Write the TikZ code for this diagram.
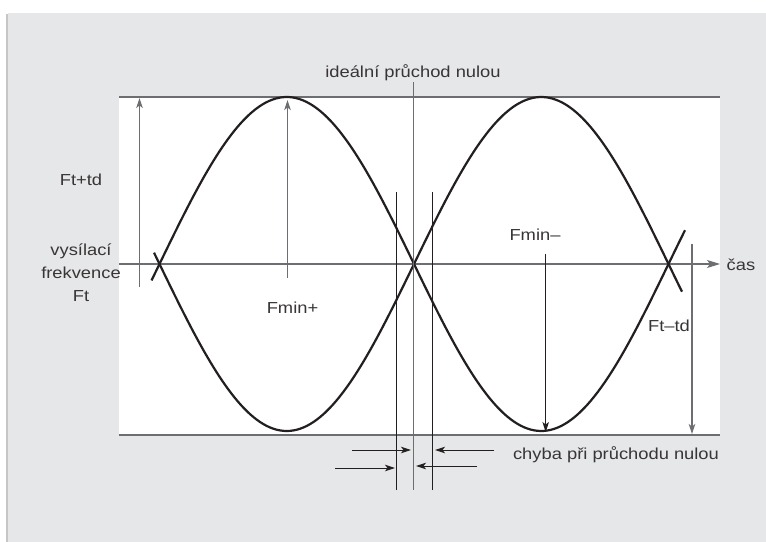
\documentclass[tikz,border=0pt]{standalone}
\usepackage{fontspec}
\setmainfont{Liberation Sans}[FakeStretch=1.15]
\usetikzlibrary{arrows.meta}

\definecolor{panelgray}{HTML}{E6E7E8}
\definecolor{linegray}{HTML}{6D6E71}
\definecolor{ink}{HTML}{231F20}

\tikzset{
    curve/.style={line width=2.2bp, ink, line join=round},
    guide/.style={line width=1.1bp, linegray},
    thinline/.style={line width=0.9bp, ink},
    measure/.style={-{Stealth[length=10bp, width=6.5bp, inset=2.5bp]}},
    lbl/.style={font=\fontsize{16}{23}\selectfont, text=ink!90, inner sep=0pt}
}

\begin{document}
\begin{tikzpicture}[x=1bp, y=-1bp]
    \useasboundingbox (0,0) rectangle (766,542);

    % panel
    \fill[panelgray] (8,13) rectangle (766,542);
    \draw[gray!45, line width=2bp] (7,14) -- (7,542);
    \fill[white] (119,97) rectangle (720,435);

    % frame lines and time axis
    \draw[guide] (119,97) -- (720,97);
    \draw[guide] (119,435) -- (720,435);
    \coordinate (ax0) at (119,264);
    \coordinate (ax1) at (720,264);
    \draw[guide, -{Stealth[length=13bp, width=8bp, inset=3bp]}] (ax0) -- (ax1);

    % the two frequency curves
    \draw[curve] plot[domain=151.5:685, samples=160, smooth]
        (\x, {264-167*sin(0.707269*(\x-159.5))});
    \draw[curve] plot[domain=154:682, samples=160, smooth]
        (\x, {264+167*sin(0.707269*(\x-159.5))});

    % zero crossing lines
    \draw[guide] (413.7,82) -- (413.7,489.5);
    \foreach \x in {396.7,432.7} {
        \draw[thinline] (\x,192.5) -- (\x,489.5);
    }

    % labels
    \node[lbl] (ideal) at (413,73) {ideální průchod nulou};
    \node[lbl] (cas) at (741,265) {čas};
    \node[lbl] (ftplus) at (81,180) {Ft+td};
    \node[lbl, align=center] (ft) at (81,273) {vysílací\\frekvence\\Ft};
    \node[lbl] (fminplus) at (292.5,308) {Fmin+};
    \node[lbl] (fminminus) at (535,235) {Fmin–};
    \node[lbl] (ftminus) at (669,326) {Ft–td};
    \node[lbl] (chyba) at (616,455) {chyba při průchodu nulou};

    % deviation arrows
    \coordinate (a0) at (139.5,287);
    \coordinate (a1) at (139.5,98);
    \draw[guide, measure] (a0) -- (a1);
    \coordinate (b0) at (287.5,278);
    \coordinate (b1) at (287.5,100);
    \draw[guide, measure] (b0) -- (b1);
    \coordinate (c0) at (545.7,254);
    \coordinate (c1) at (545.7,432);
    \draw[thinline, measure] (c0) -- (c1);
    \coordinate (d0) at (692,244);
    \coordinate (d1) at (692,434);
    \draw[guide, measure] (d0) -- (d1);

    % crossing error arrows
    \coordinate (e0) at (352,450);
    \coordinate (e1) at (411,450);
    \draw[thinline, measure] (e0) -- (e1);
    \coordinate (f0) at (494,450);
    \coordinate (f1) at (435,450);
    \draw[thinline, measure] (f0) -- (f1);
    \coordinate (g0) at (335,468);
    \coordinate (g1) at (395,468);
    \draw[thinline, measure] (g0) -- (g1);
    \coordinate (h0) at (477,466);
    \coordinate (h1) at (416,466);
    \draw[thinline, measure] (h0) -- (h1);
\end{tikzpicture}
\end{document}
